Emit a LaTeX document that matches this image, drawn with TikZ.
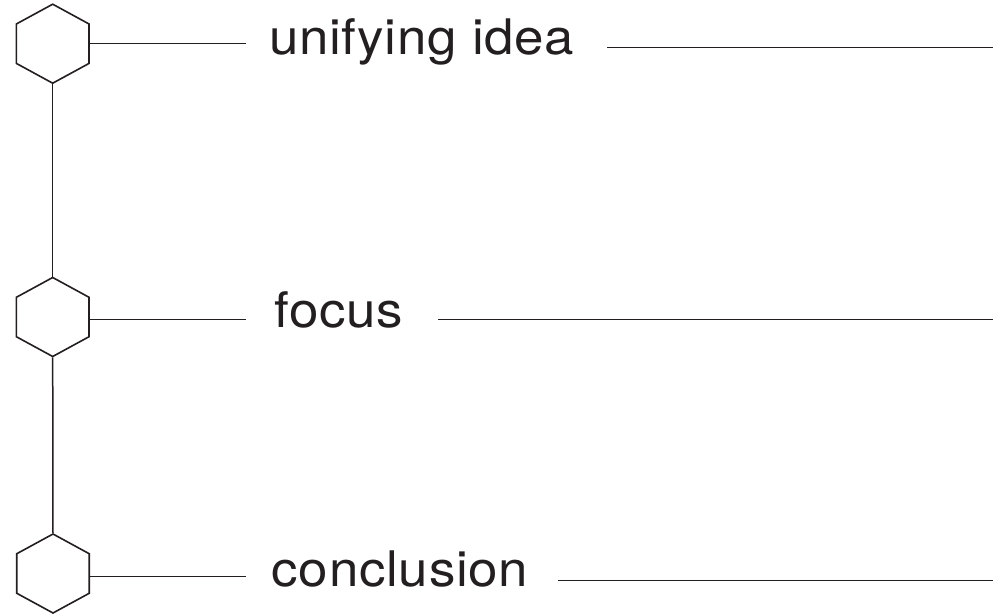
\documentclass[tikz,border=0pt]{standalone}
\usepackage{fontspec}
\newfontfamily\labelfont{TeX Gyre Heros}[FakeStretch=1.08,LetterSpace=1.5]
\usetikzlibrary{shapes.geometric}
\definecolor{ink}{HTML}{231F20}
\begin{document}
\begin{tikzpicture}[x=1pt,y=-1pt,
  hexnode/.style={regular polygon, regular polygon sides=6, shape border rotate=30,
    minimum size=79pt, inner sep=0pt, draw=ink, line width=1.6pt, xscale=1.06},
  conn/.style={draw=ink, line width=1.5pt},
  lbl/.style={anchor=base west, inner sep=0pt, text=ink,
    font=\labelfont\fontsize{49}{55}\selectfont}]
\useasboundingbox (0,0) rectangle (993,615);
\node[hexnode] (h1) at (52.7,43.7) {};
\node[hexnode] (h2) at (52.7,317) {};
\node[hexnode] (h3) at (53,573.5) {};
\draw[conn] (h1.south) -- (h2.north);
\draw[conn] (h2.south) -- (h3.north);
\coordinate (a1) at (246,43.3);
\coordinate (a2) at (246,319.3);
\coordinate (a3) at (246,576.7);
\draw[conn] (h1.east |- a1) -- (a1);
\draw[conn] (h2.east |- a2) -- (a2);
\draw[conn] (h3.east |- a3) -- (a3);
\node[lbl] (t1) at (269,55) {unifying idea};
\node[lbl] (t2) at (274,327) {focus};
\node[lbl] (t3) at (271.5,586) {conclusion};
\coordinate (b1s) at (607,47.5);
\coordinate (b1e) at (993,47.5);
\coordinate (b2s) at (438,319.3);
\coordinate (b2e) at (993,319.3);
\coordinate (b3s) at (558,580.7);
\coordinate (b3e) at (993,580.7);
\draw[conn] (b1s) -- (b1e);
\draw[conn] (b2s) -- (b2e);
\draw[conn] (b3s) -- (b3e);
\end{tikzpicture}
\end{document}
